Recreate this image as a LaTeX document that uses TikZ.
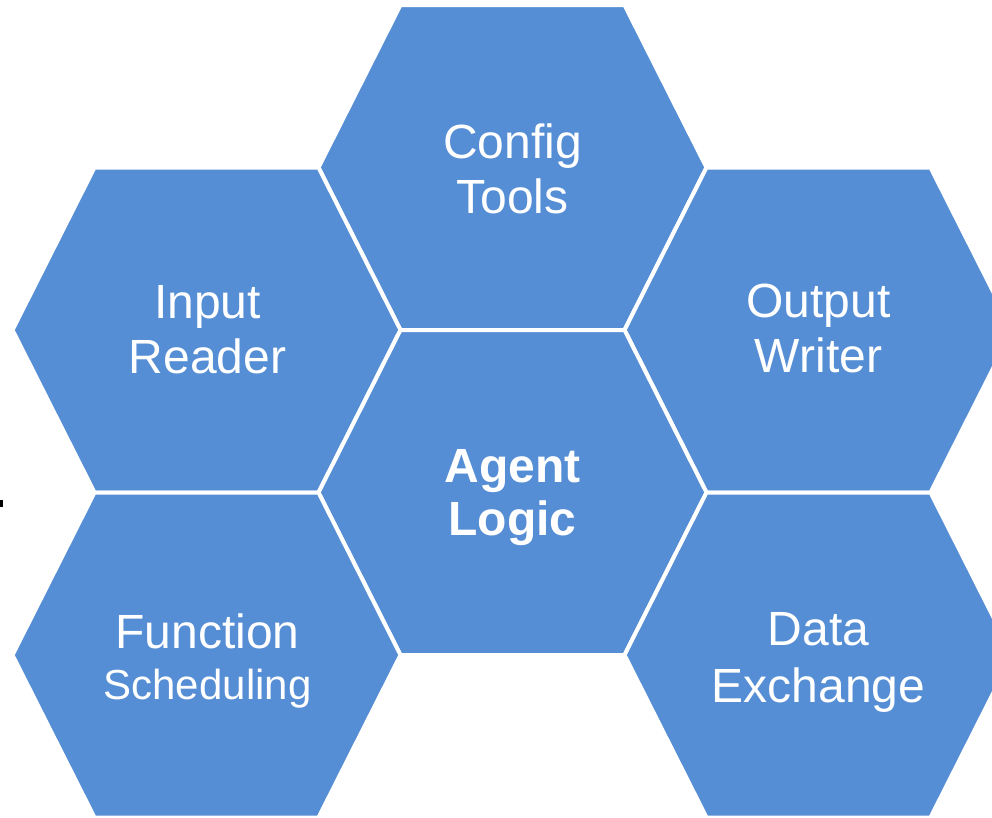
\documentclass[tikz,border=0pt]{standalone}
\usepackage{fontspec}
\setmainfont{Liberation Sans}
\definecolor{hexblue}{RGB}{85,142,213}
\tikzset{
  hexcell/.style={fill=hexblue, draw=white, line width=4pt, line join=miter},
  lbl/.style={text=white, anchor=base, inner sep=0pt, font=\fontsize{48}{55}\selectfont},
  lblsmall/.style={lbl, font=\fontsize{42}{50}\selectfont},
}
\newcommand\hexat[2]{\path[hexcell] (#1-194,#2) -- (#1-112,#2-162.5) -- (#1+112,#2-162.5) -- (#1+194,#2) -- (#1+112,#2+162.5) -- (#1-112,#2+162.5) -- cycle;}
\begin{document}
\begin{tikzpicture}[x=1pt,y=-1pt]
\useasboundingbox (0,0) rectangle (992,817);
\clip (0,0) rectangle (992,817);
\fill[white] (0,0) rectangle (992,817);
% hexagons
\hexat{512.5}{167.5}
\hexat{206.5}{330}
\hexat{818.5}{330}
\hexat{512.5}{492.5}
\hexat{206.5}{655}
\hexat{818.5}{655}
% stray mark
\fill[black] (0,500) rectangle (3,507);
% labels
\node[lbl] (config) at (512.5,158) {Config};
\node[lbl] (tools) at (512.5,213) {Tools};
\node[lbl] (input) at (207.5,318) {Input};
\node[lbl] (reader) at (207.5,373) {Reader};
\node[lbl] (output) at (818.5,317) {Output};
\node[lbl] (writer) at (818.5,372) {Writer};
\node[lbl, font=\fontsize{48}{55}\selectfont\bfseries] (agent) at (512.5,482) {Agent};
\node[lbl, font=\fontsize{48}{55}\selectfont\bfseries] (logic) at (512.5,535) {Logic};
\node[lbl] (function) at (207.5,648) {Function};
\node[lblsmall] (scheduling) at (207.5,699) {Scheduling};
\node[lbl] (data) at (818.5,645) {Data};
\node[lbl] (exchange) at (818.5,702) {Exchange};
\end{tikzpicture}
\end{document}
